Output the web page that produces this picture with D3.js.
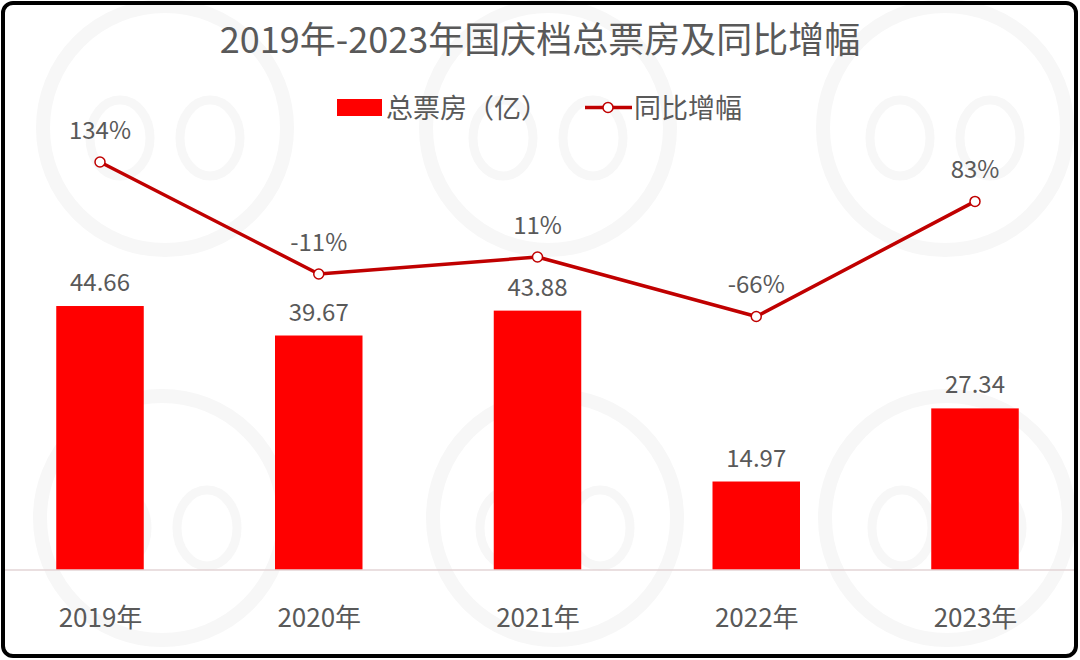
<!DOCTYPE html>
<html><head><meta charset="utf-8">
<script src="https://cdn.jsdelivr.net/npm/d3@7"></script>
<style>html,body{margin:0;padding:0;background:#fff;}svg{display:block;}</style>
</head><body>
<svg id="chart" width="1080" height="660"></svg>
<script>
const years = ["2019年","2020年","2021年","2022年","2023年"];
const boxOffice = [44.66, 39.67, 43.88, 14.97, 27.34];
const growth = [134, -11, 11, -66, 83];
const growthLabels = ["134%","-11%","11%","-66%","83%"];
const titleText = "2019年-2023年国庆档总票房及同比增幅";
const legendNames = ["总票房（亿）","同比增幅"];

const svg = d3.select("#chart");
const font = "'Noto Sans CJK SC','Microsoft YaHei',sans-serif";
const textColor = "#595959";
const barColor = "#FF0000";
const lineColor = "#C00000";

svg.append("rect").attr("x",0).attr("y",0).attr("width",1080).attr("height",660).attr("fill","#fff");

// very faint watermark
const wm = svg.append("g").attr("fill","none").attr("stroke","#f7f7f7");
[[165,128],[548,128],[945,128],[162,518],[555,518],[947,518]].forEach(([cx,cy])=>{
  const g = wm.append("g").attr("transform",`translate(${cx},${cy})`);
  g.append("circle").attr("r",122).attr("stroke-width",14);
  g.append("ellipse").attr("cx",-45).attr("cy",10).attr("rx",30).attr("ry",38).attr("stroke-width",9);
  g.append("ellipse").attr("cx",45).attr("cy",10).attr("rx",30).attr("ry",38).attr("stroke-width",9);
});

const x = d3.scalePoint().domain(years).range([100, 975]);
const step = x.step();
const barW = step * 0.4;
const y = d3.scaleLinear().domain([0, 50]).range([570, 570 - 50*5.911]);
const y2 = d3.scaleLinear().domain([-80, 150]).range([265.5 + 80*0.7724, 265.5 - 150*0.7724]);

svg.append("g").selectAll("rect").data(boxOffice).join("rect")
  .attr("x",(d,i)=>x(years[i]) - barW/2)
  .attr("y",d=>y(d))
  .attr("width",barW)
  .attr("height",d=>y(0)-y(d))
  .attr("fill",barColor);

const xAxis = d3.axisBottom(x).tickSize(0).tickPadding(0);
const ax = svg.append("g").attr("transform","translate(0,570)").call(xAxis);
ax.select(".domain").remove();
ax.append("line").attr("x1",5).attr("x2",1075).attr("y1",0).attr("y2",0).attr("stroke","#e3d4d6").attr("stroke-width",1.5);
ax.selectAll(".tick text").attr("font-family",font).attr("font-size",26).attr("fill",textColor).attr("dy",null).attr("y",57);

svg.append("g").selectAll("text").data(boxOffice).join("text")
  .attr("x",(d,i)=>x(years[i]))
  .attr("y",d=>y(d)-15)
  .attr("text-anchor","middle")
  .attr("font-family",font).attr("font-size",24).attr("fill",textColor)
  .text(d=>d.toFixed(2));

const line = d3.line().x((d,i)=>x(years[i])).y(d=>y2(d));
svg.append("path").datum(growth).attr("d",line).attr("fill","none").attr("stroke",lineColor).attr("stroke-width",3.5).attr("stroke-linejoin","round");
svg.append("g").selectAll("circle").data(growth).join("circle")
  .attr("cx",(d,i)=>x(years[i])).attr("cy",d=>y2(d)).attr("r",5)
  .attr("fill","#fff").attr("stroke",lineColor).attr("stroke-width",1.5);
svg.append("g").selectAll("text").data(growth).join("text")
  .attr("x",(d,i)=>x(years[i]))
  .attr("y",d=>y2(d)-23)
  .attr("text-anchor","middle")
  .attr("font-family",font).attr("font-size",24).attr("fill",textColor)
  .text((d,i)=>growthLabels[i]);

svg.append("text").attr("x",540).attr("y",53).attr("text-anchor","middle")
  .attr("font-family",font).attr("font-size",36).attr("fill",textColor).text(titleText);

const lg = svg.append("g");
lg.append("rect").attr("x",337).attr("y",99).attr("width",45).attr("height",17).attr("fill",barColor);
lg.append("text").attr("x",386).attr("y",118).attr("font-family",font).attr("font-size",27).attr("fill",textColor).text(legendNames[0]);
lg.append("line").attr("x1",585).attr("x2",632).attr("y1",107.5).attr("y2",107.5).attr("stroke",lineColor).attr("stroke-width",3.5);
lg.append("circle").attr("cx",608).attr("cy",107.5).attr("r",5).attr("fill","#fff").attr("stroke",lineColor).attr("stroke-width",1.5);
lg.append("text").attr("x",634).attr("y",118).attr("font-family",font).attr("font-size",27).attr("fill",textColor).text(legendNames[1]);

svg.append("rect").attr("x",3).attr("y",3).attr("width",1073).attr("height",653).attr("rx",10).attr("ry",10)
  .attr("fill","none").attr("stroke","#000").attr("stroke-width",4);
</script>
</body></html>
